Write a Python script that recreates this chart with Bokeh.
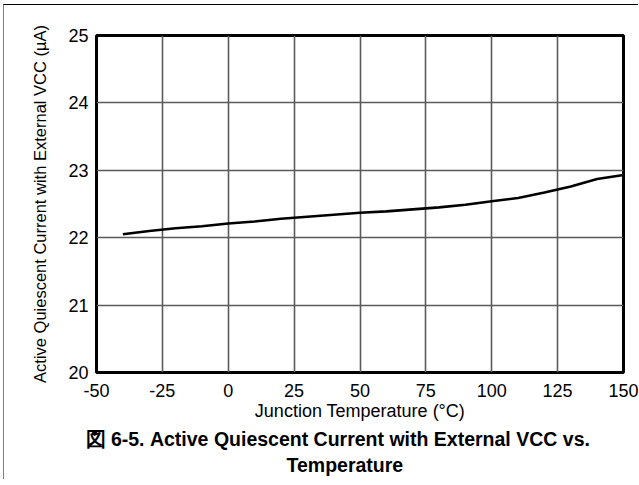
from bokeh.plotting import figure
from bokeh.models import Range1d, FixedTicker, Title
from bokeh.embed import file_html
from bokeh.resources import INLINE

temps = [-40, -30, -20, -10, 0, 10, 20, 30, 40, 50, 60, 70, 80, 90, 100, 110, 120, 130, 140, 150]
current = [22.05, 22.10, 22.14, 22.17, 22.21, 22.24, 22.28, 22.31, 22.34, 22.37,
           22.39, 22.42, 22.45, 22.49, 22.54, 22.59, 22.67, 22.76, 22.87, 22.93]
x_ticks = [-50, -25, 0, 25, 50, 75, 100, 125, 150]
y_ticks = [20, 21, 22, 23, 24, 25]
x_tick_labels = ["-50", "-25", "0", "25", "50", "75", "100", "125", "150"]
x_label = "Junction Temperature (°C)"
y_label = "Active Quiescent Current with External VCC (µA)"
caption1 = "図 6-5. Active Quiescent Current with External VCC vs."
caption2 = "Temperature"

FONT = "Liberation Sans"

p = figure(width=635, height=475, output_backend="svg", toolbar_location=None,
           x_range=Range1d(-50, 150), y_range=Range1d(20, 25),
           min_border_left=92, min_border_right=16, min_border_top=30, min_border_bottom=108)
p.styles = {"margin-left": "3px", "margin-top": "4px",
            "border-top": "1px solid #000000", "border-left": "1px solid #808080"}

p.line(temps, current, line_color="black", line_width=2.6)

p.outline_line_color = "black"
p.outline_line_width = 3
p.xgrid.ticker = FixedTicker(ticks=x_ticks)
p.ygrid.ticker = FixedTicker(ticks=y_ticks)
for g in (p.xgrid, p.ygrid):
    g.grid_line_color = "#5a5a5a"
    g.grid_line_width = 1.6

for ax, ticks in ((p.xaxis, x_ticks), (p.yaxis, y_ticks)):
    ax.ticker = FixedTicker(ticks=ticks)
    ax.axis_line_color = None
    ax.major_tick_line_color = None
    ax.minor_tick_line_color = None
    ax.major_tick_out = 0
    ax.major_tick_in = 0
    ax.major_label_text_font = FONT
    ax.major_label_text_font_size = "18px"
    ax.major_label_text_color = "black"
    ax.axis_label_text_font = FONT
    ax.axis_label_text_font_style = "normal"
    ax.axis_label_text_color = "black"

p.xaxis.major_label_overrides = {t: s for t, s in zip(x_ticks, x_tick_labels)}
p.xaxis.axis_label = x_label
p.yaxis.axis_label = y_label
p.xaxis.major_label_standoff = 11
p.yaxis.major_label_standoff = 8
p.xaxis.axis_label_standoff = 1
p.yaxis.axis_label_standoff = 16
p.xaxis.axis_label_text_font_size = "18px"
p.yaxis.axis_label_text_font_size = "16.5px"

t1 = Title(text=caption1, align="left", offset=-11, standoff=4,
           text_font=FONT, text_font_style="bold", text_font_size="19.5px", text_color="black")
t2 = Title(text=caption2, align="left", offset=190, standoff=0,
           text_font=FONT, text_font_style="bold", text_font_size="19.5px", text_color="black")
p.add_layout(t1, "below")
p.add_layout(t2, "below")

open("out.html", "w").write(file_html(p, INLINE))
